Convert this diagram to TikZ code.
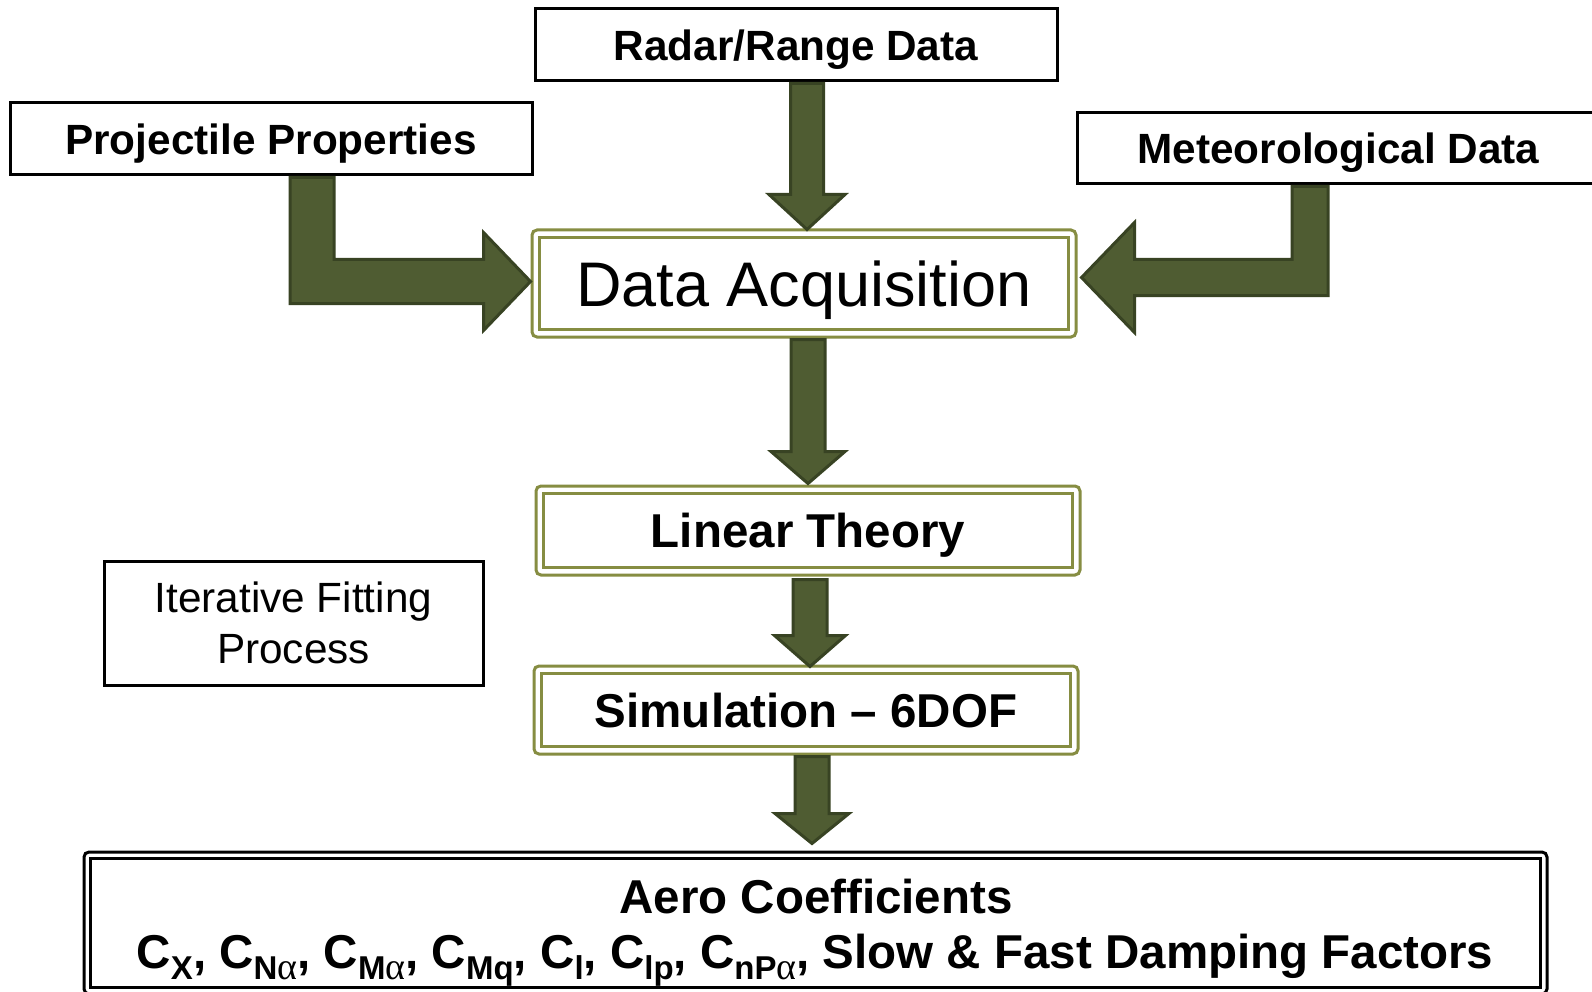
\documentclass[tikz,border=0pt]{standalone}
\usepackage{fontspec}
\setmainfont{Liberation Sans}
\newfontfamily\grk{Liberation Serif}
\usetikzlibrary{calc}
\definecolor{olv}{RGB}{134,141,66}
\definecolor{arrf}{RGB}{79,92,50}
\definecolor{arrd}{RGB}{56,67,35}
\newcommand{\al}{{\grk\mdseries\fontsize{38}{38}\selectfont α}}
\newcommand{\Csub}[1]{C\raisebox{-11pt}{\fontsize{33}{33}\selectfont #1}}
\newcommand{\innerrect}[3]{%
  \draw[#2, line width=2.5pt] ([shift={(#3pt,-#3pt)}]#1.north west) rectangle ([shift={(-#3pt,#3pt)}]#1.south east);}
\newcommand{\dnarrow}[7]{%
  \draw[blockarrow] let \p1=(#1), \p2=(#2) in
    (#3pt-#4pt,\y1) -- (#3pt+#4pt,\y1) -- (#3pt+#4pt,\y2+#6pt) -- (#3pt+#5pt,\y2+#6pt)
    -- (#3pt,\y2-#7pt) -- (#3pt-#5pt,\y2+#6pt) -- (#3pt-#4pt,\y2+#6pt) -- cycle;}
\begin{document}
\begin{tikzpicture}[x=1pt,y=-1pt,
  plainbox/.style={draw=black, line width=3pt, fill=white, inner sep=0pt, align=center},
  dblbox/.style={draw=olv, line width=3pt, rounded corners=5pt, fill=white, inner sep=0pt, align=center},
  blkbox/.style={draw=black, line width=3pt, rounded corners=5pt, fill=white, inner sep=0pt},
  blockarrow/.style={fill=arrf, draw=arrd, line width=3pt, line join=miter},
  fsmallb/.style={font=\fontsize{42.3}{51}\selectfont\bfseries, text height=30.3pt, text depth=0pt},
  fmidb/.style={font=\fontsize{47.5}{54}\selectfont\bfseries, text height=34pt, text depth=0pt},
  fbig/.style={font=\fontsize{63}{70}\selectfont, text height=45pt, text depth=0pt},
  fsmall/.style={font=\fontsize{42.3}{51}\selectfont},
]
\useasboundingbox (0,0) rectangle (1592,992);
\fill[white] (0,0) rectangle (1592,992);

% boxes
\node[plainbox, fsmallb, minimum width=522pt, minimum height=72pt] (radar) at (796,45) {Radar/Range Data};
\node[plainbox, fsmallb, minimum width=522pt, minimum height=72pt] (proj) at (271,139) {Projectile Properties};
\node[plainbox, fsmallb, minimum width=523pt, minimum height=71pt] (met) at (1338.5,148.5) {Meteorological Data};
\node[dblbox, fbig, minimum width=544pt, minimum height=107pt] (da) at (804,283.5) {Data Acquisition};
\innerrect{da}{olv}{9}
\node[dblbox, fmidb, minimum width=544pt, minimum height=89pt] (lt) at (808,530.5) {Linear Theory};
\innerrect{lt}{olv}{9}
\node[plainbox, fsmall, minimum width=379pt, minimum height=124pt] (iter) at (293.5,623) {Iterative Fitting\\Process};
\node[dblbox, fmidb, minimum width=544pt, minimum height=88pt] (sim) at (806,710) {Simulation -- 6DOF};
\innerrect{sim}{olv}{9}
\node[blkbox, minimum width=1463pt, minimum height=142pt] (aero) at (815.5,923) {};
\innerrect{aero}{black}{8}
\node[font=\fontsize{47.5}{54}\selectfont\bfseries, anchor=base, inner sep=0pt] (aerot) at (816,913) {Aero Coefficients};
\node[font=\fontsize{47.5}{54}\selectfont\bfseries, anchor=base, inner sep=0pt] (aerol) at (815,968)
  {\Csub{X}, \Csub{N\al}, \Csub{M\al}, \Csub{Mq}, \Csub{l}, \Csub{lp}, \Csub{nP\al}, Slow \& Fast Damping Factors};

% straight arrows
\dnarrow{$(radar.south)+(0,1)$}{da.north}{807}{16.5}{38}{34}{1}
\dnarrow{$(da.south)+(0,1)$}{lt.north}{808}{17}{37}{33}{-1}
\dnarrow{$(lt.south)+(0,3)$}{sim.north}{810}{17}{35.5}{29}{2}
\dnarrow{$(sim.south)+(0,1)$}{aero.north}{812}{17}{37}{37}{-7}

% bent arrows
\draw[blockarrow] let \p1=($(proj.south)+(0,1)$), \p2=($(da.west)+(0,-2)$) in
  (290pt,\y1) -- (334pt,\y1) -- (334pt,\y2+22pt) -- (\x2-47pt,\y2+22pt) -- (\x2-47pt,\y2+49pt)
  -- (\x2,\y2) -- (\x2-47pt,\y2-49pt) -- (\x2-47pt,\y2-22pt) -- (290pt,\y2-22pt) -- cycle;
\draw[blockarrow] let \p1=($(met.south)+(0,1)$), \p2=($(da.east)+(0,-6)$) in
  (1328pt,\y1) -- (1292pt,\y1) -- (1292pt,\y2+18pt) -- (\x2+57pt,\y2+18pt) -- (\x2+57pt,\y2+55pt)
  -- (\x2+4pt,\y2) -- (\x2+57pt,\y2-55pt) -- (\x2+57pt,\y2-18pt) -- (1328pt,\y2-18pt) -- cycle;
\end{tikzpicture}
\end{document}
